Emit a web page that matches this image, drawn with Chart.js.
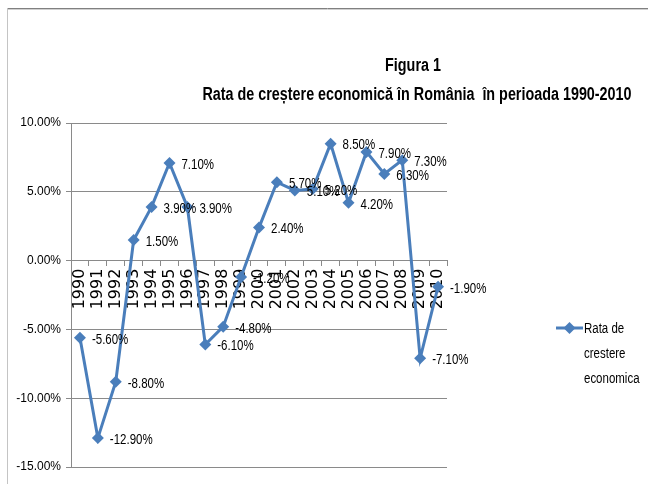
<!DOCTYPE html>
<html>
<head>
<meta charset="utf-8">
<script src="https://cdn.jsdelivr.net/npm/chart.js@4/dist/chart.umd.min.js"></script>
<style>
  html, body { margin: 0; padding: 0; background: #fff; }
  #wrap { position: relative; width: 648px; height: 484px; }
</style>
</head>
<body>
<div id="wrap"><canvas id="c" width="648" height="484"></canvas></div>
<script>
const categories = ['1990','1991','1992','1993','1994','1995','1996','1997','1998','1999','2000','2001','2002','2003','2004','2005','2006','2007','2008','2009','2010'];
const growthRate = [-5.6, -12.9, -8.8, 1.5, 3.9, 7.1, 3.9, -6.1, -4.8, -1.2, 2.4, 5.7, 5.1, 5.2, 8.5, 4.2, 7.9, 6.3, 7.3, -7.1, -1.9];
const seriesName = ['Rata de', 'crestere', 'economica'];
const titleLines = ['Figura 1', 'Rata de creștere economică în România  în perioada 1990-2010'];
const yMin = -15, yMax = 10, yStep = 5;

const SANS = '"Liberation Sans", Arial, sans-serif';
const NARROW_X = 0.82; // horizontal condensing of plugin-drawn text (narrow face look)
const LINE_COLOR = '#4A7EBB';
const GRID_COLOR = '#8a8a8a';

const fmt = v => v.toFixed(2) + '%';

function narrowText(ctx, text, x, y, align) {
  ctx.save();
  ctx.translate(x, y);
  ctx.scale(NARROW_X, 1);
  ctx.textAlign = align;
  ctx.fillText(text, 0, 0);
  ctx.restore();
}

const framePlugin = {
  id: 'frame',
  beforeDraw(chart) {
    const ctx = chart.ctx;
    ctx.save();
    ctx.fillStyle = '#ffffff';
    ctx.fillRect(0, 0, chart.width, chart.height);
    ctx.lineWidth = 1;
    ctx.strokeStyle = '#808080';
    ctx.beginPath(); ctx.moveTo(7, 8.5); ctx.lineTo(chart.width, 8.5); ctx.stroke();
    ctx.strokeStyle = '#d0d0d0';
    ctx.beginPath(); ctx.moveTo(7, 9.5); ctx.lineTo(chart.width, 9.5); ctx.stroke();
    ctx.strokeStyle = '#c4c4c4';
    ctx.beginPath(); ctx.moveTo(7.5, 8); ctx.lineTo(7.5, chart.height); ctx.stroke();
    ctx.restore();
  }
};

const titlePlugin = {
  id: 'customTitle',
  afterDraw(chart) {
    const ctx = chart.ctx;
    ctx.save();
    ctx.fillStyle = '#000';
    ctx.font = 'bold 17.5px ' + SANS;
    ctx.textBaseline = 'middle';
    narrowText(ctx, titleLines[0], 413, 66, 'center');
    narrowText(ctx, titleLines[1], 417, 95, 'center');
    ctx.restore();
  }
};

const labelPlugin = {
  id: 'pointLabels',
  afterDatasetsDraw(chart) {
    const ctx = chart.ctx;
    const meta = chart.getDatasetMeta(0);
    ctx.save();
    ctx.fillStyle = '#000';
    ctx.font = '14px ' + SANS;
    ctx.textBaseline = 'middle';
    meta.data.forEach((pt, i) => {
      narrowText(ctx, fmt(growthRate[i]), pt.x + 12, pt.y + 2, 'left');
    });
    ctx.restore();
  }
};

const legendPlugin = {
  id: 'customLegend',
  afterDraw(chart) {
    const ctx = chart.ctx;
    const x0 = chart.chartArea.right + 109;
    const y0 = 328;
    ctx.save();
    ctx.strokeStyle = LINE_COLOR;
    ctx.lineWidth = 3;
    ctx.beginPath(); ctx.moveTo(x0, y0); ctx.lineTo(x0 + 27, y0); ctx.stroke();
    ctx.fillStyle = LINE_COLOR;
    ctx.beginPath();
    ctx.moveTo(x0 + 13.5, y0 - 6);
    ctx.lineTo(x0 + 19.5, y0);
    ctx.lineTo(x0 + 13.5, y0 + 6);
    ctx.lineTo(x0 + 7.5, y0);
    ctx.closePath(); ctx.fill();
    ctx.fillStyle = '#000';
    ctx.font = '14px ' + SANS;
    ctx.textBaseline = 'middle';
    seriesName.forEach((t, i) => narrowText(ctx, t, x0 + 28, y0 + 1 + i * 25, 'left'));
    ctx.restore();
  }
};

new Chart(document.getElementById('c'), {
  type: 'line',
  data: {
    labels: categories,
    datasets: [{
      label: seriesName.join(' '),
      data: growthRate,
      borderColor: LINE_COLOR,
      backgroundColor: LINE_COLOR,
      borderWidth: 3,
      tension: 0,
      pointStyle: 'rectRot',
      pointRadius: 6,
      pointHoverRadius: 6,
      pointBorderWidth: 0,
      fill: false
    }]
  },
  options: {
    responsive: false,
    animation: false,
    events: [],
    layout: { padding: { left: 0, right: 201, top: 123, bottom: 17 } },
    plugins: { legend: { display: false }, title: { display: false }, tooltip: { enabled: false } },
    scales: {
      x: {
        type: 'category',
        offset: true,
        position: { y: 0 },
        grid: { display: true, drawOnChartArea: false, offset: true, tickLength: 5, color: GRID_COLOR, lineWidth: 1 },
        border: { display: true, color: GRID_COLOR, width: 1 },
        ticks: {
          autoSkip: false,
          minRotation: 90,
          maxRotation: 90,
          padding: 3,
          color: '#000',
          font: { family: '"DejaVu Sans", sans-serif', size: 16 }
        }
      },
      y: {
        min: yMin,
        max: yMax,
        afterFit(scale) { scale.width = 71; },
        grid: { color: GRID_COLOR, lineWidth: 1, tickLength: 5 },
        border: { display: true, color: GRID_COLOR, width: 1 },
        ticks: {
          stepSize: yStep,
          padding: 5,
          color: '#000',
          font: { family: SANS, size: 12 },
          callback: v => fmt(v)
        }
      }
    }
  },
  plugins: [framePlugin, titlePlugin, labelPlugin, legendPlugin]
});
</script>
</body>
</html>
